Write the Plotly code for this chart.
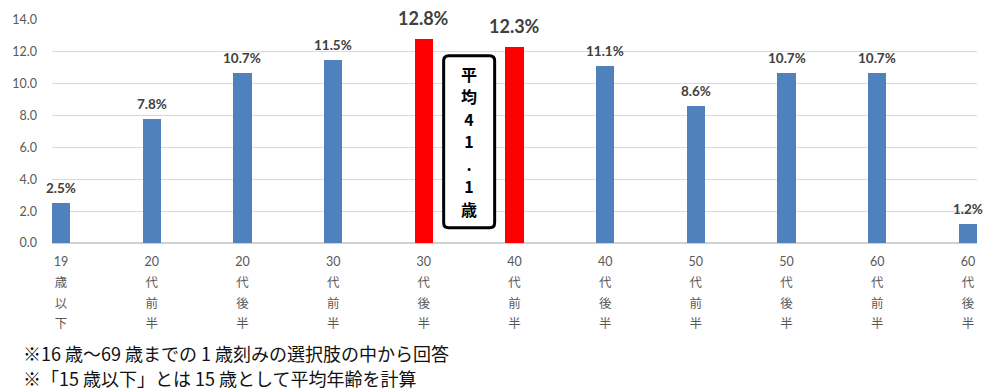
import plotly.graph_objects as go

categories = ["19歳以下", "20代前半", "20代後半", "30代前半", "30代後半", "40代前半",
              "40代後半", "50代前半", "50代後半", "60代前半", "60代後半"]
values = [2.5, 7.8, 10.7, 11.5, 12.8, 12.3, 11.1, 8.6, 10.7, 10.7, 1.2]
highlight = [False, False, False, False, True, True, False, False, False, False, False]
y_ticks = [0, 2, 4, 6, 8, 10, 12, 14]
avg_label = ["平", "均", "4", "1", ".", "1", "歳"]
notes = ["※16 歳～69 歳までの 1 歳刻みの選択肢の中から回答",
         "※「15 歳以下」とは 15 歳として平均年齢を計算"]

BLUE = "#4F81BD"
RED = "#FF0000"
GRAY = "#595959"
NUMFONT = "Lato, 'Noto Sans CJK JP', sans-serif"
JPFONT = "'Noto Sans CJK JP', sans-serif"

PLOT_TOP, PLOT_BOTTOM = 16, 243
PH = PLOT_BOTTOM - PLOT_TOP


def py_to_paper(py):
    return (PLOT_BOTTOM - py) / PH


xs = list(range(len(categories)))
colors = [RED if h else BLUE for h in highlight]


def tick_label(c):
    parts = [c[:2]] + list(c[2:])
    return "<br>".join(f'<span style="font-size:12.5px">{p}</span>' for p in parts)


fig = go.Figure()
fig.add_trace(go.Bar(x=xs, y=values, width=0.2, marker=dict(color=colors, line=dict(width=0)),
                     hoverinfo="skip"))

for i, v in enumerate(values):
    big = highlight[i]
    fig.add_annotation(x=i, y=v, xref="x", yref="y", text=f"<b>{v:.1f}%</b>",
                       showarrow=False, yanchor="bottom", yshift=8 if big else 5,
                       font=dict(family=NUMFONT, size=18 if big else 13.5, color="#404040"))

# rounded box for the average label
box_cy = py_to_paper((54 + 226) / 2)
hw, hh, r = 25.5, 86, 5
box_path = (f"M {-hw},{-hh + r} L {-hw},{hh - r} Q {-hw},{hh} {-hw + r},{hh} "
            f"L {hw - r},{hh} Q {hw},{hh} {hw},{hh - r} L {hw},{-hh + r} "
            f"Q {hw},{-hh} {hw - r},{-hh} L {-hw + r},{-hh} Q {-hw},{-hh} {-hw},{-hh + r} Z")
fig.add_shape(type="path", xref="x", yref="paper", xsizemode="pixel", ysizemode="pixel",
              xanchor=4.5, yanchor=box_cy, path=box_path,
              line=dict(color="black", width=3), fillcolor="white", layer="above")

fig.add_annotation(x=4.5, y=box_cy, xref="x", yref="paper",
                   text="<br>".join(f'<span style="font-size:16px"><b>{t}</b></span>' for t in avg_label),
                   showarrow=False, font=dict(family=JPFONT, size=17.3, color="black"),
                   align="center", xanchor="center", yanchor="middle")

for k, t in enumerate(notes):
    fig.add_annotation(x=(18 - 49) / 928, y=py_to_paper(355 + 25 * k), xref="paper", yref="paper",
                       text=t, showarrow=False, xanchor="left", yanchor="middle",
                       font=dict(family=JPFONT, size=18, color="#111111"))

fig.update_layout(
    width=1000, height=392,
    margin=dict(l=49, r=23, t=PLOT_TOP, b=392 - PLOT_BOTTOM),
    plot_bgcolor="white", paper_bgcolor="white",
    showlegend=False, bargap=0,
    xaxis=dict(range=[-0.1, 10.1], tickmode="array", tickvals=xs,
               ticktext=[tick_label(c) for c in categories],
               tickfont=dict(family=NUMFONT, size=16, color=GRAY),
               showgrid=False, zeroline=False, showline=False, ticks="",
               ticklabelstandoff=6, fixedrange=True),
    yaxis=dict(range=[0, 14], tickmode="array", tickvals=y_ticks,
               ticktext=[f"{t:.1f}" for t in y_ticks],
               tickfont=dict(family=NUMFONT, size=12.5, color=GRAY),
               showgrid=True, gridcolor="#D9D9D9", gridwidth=1,
               zeroline=True, zerolinecolor="#D0D0D0", zerolinewidth=1.5,
               ticks="", ticklabelstandoff=14, fixedrange=True),
)

fig.write_html("out.html", config={"displayModeBar": False},
               post_script="document.body.style.margin='0';document.body.style.overflow='hidden';")
